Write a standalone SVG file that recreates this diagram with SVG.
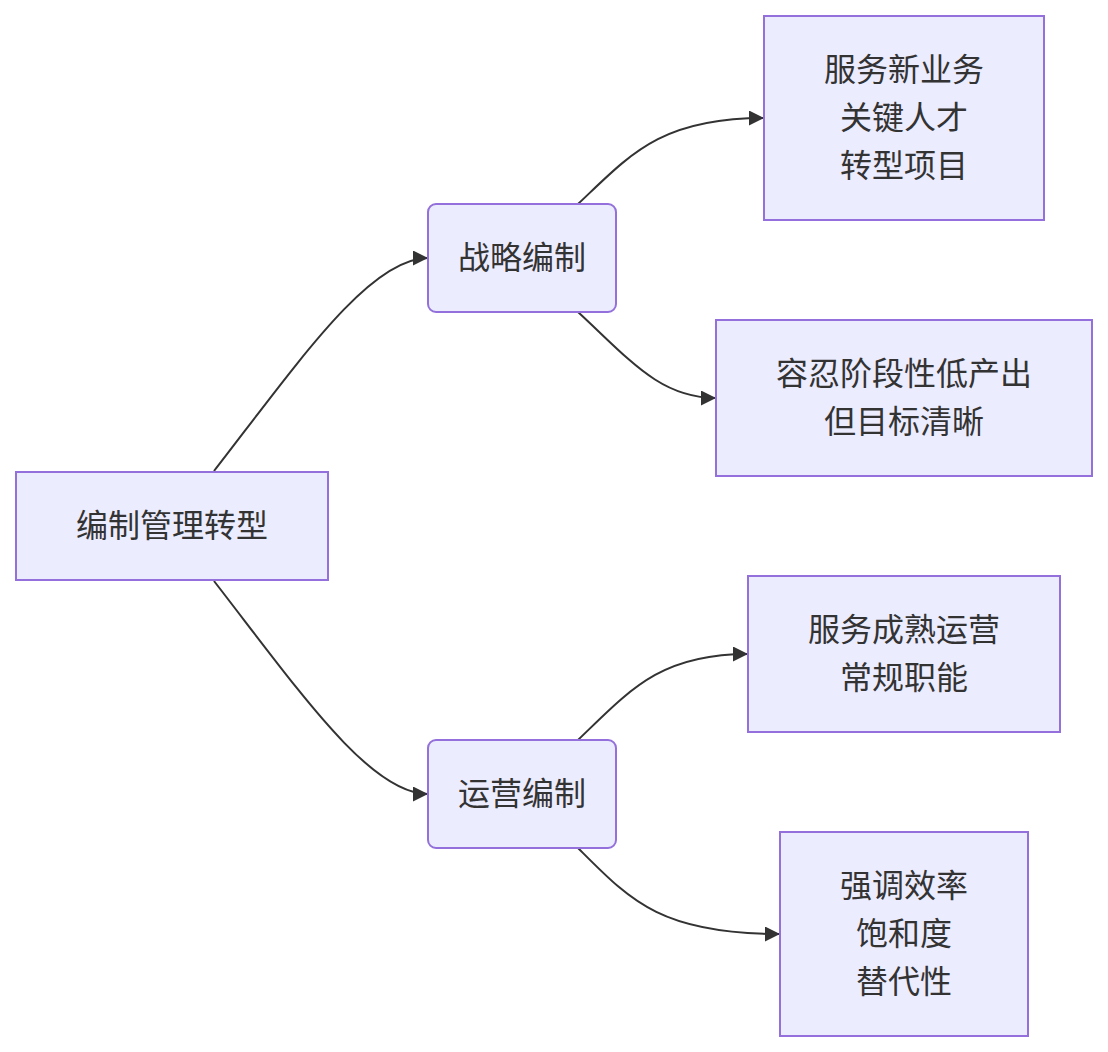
<svg xmlns="http://www.w3.org/2000/svg" width="1108" height="1052" viewBox="0 0 1108 1052">
<style>
.node rect{fill:#ECECFF;stroke:#9370DB;stroke-width:2}
.node text{font-family:"Noto Sans CJK SC","Noto Sans",sans-serif;font-size:32px;fill:#333;text-anchor:middle;dominant-baseline:central}
.edge{fill:none;stroke:#333;stroke-width:2}
</style>
<defs>
<marker id="arr" viewBox="0 0 10 10" refX="10" refY="5" markerWidth="15" markerHeight="15" markerUnits="userSpaceOnUse" orient="auto">
<path d="M0,0 L10,5 L0,10 z" fill="#333"/>
</marker>
</defs>
<rect width="1108" height="1052" fill="#fff"/>
<g id="edges">
<path class="edge" d="M214,471 C300,360 370,258 428,258" marker-end="url(#arr)"/>
<path class="edge" d="M214,581 C300,692 370,794 428,794" marker-end="url(#arr)"/>
<path class="edge" d="M578,204 C630,155 660,118 764,118" marker-end="url(#arr)"/>
<path class="edge" d="M578,312 C630,360 660,398 716,398" marker-end="url(#arr)"/>
<path class="edge" d="M578,740 C630,690 660,654 748,654" marker-end="url(#arr)"/>
<path class="edge" d="M578,848 C630,900 660,934 780,934" marker-end="url(#arr)"/>
</g>
<g id="root" class="node"><rect x="16" y="472" width="312" height="108"/><text x="172" y="523">编制管理转型</text></g>
<g id="strategic" class="node"><rect x="428" y="204" width="188" height="108" rx="8"/><text x="522" y="255">战略编制</text></g>
<g id="operational" class="node"><rect x="428" y="740" width="188" height="108" rx="8"/><text x="522" y="791">运营编制</text></g>
<g id="s1" class="node"><rect x="764" y="16" width="280" height="204"/><text x="904" y="67">服务新业务</text><text x="904" y="115">关键人才</text><text x="904" y="163">转型项目</text></g>
<g id="s2" class="node"><rect x="716" y="320" width="376" height="156"/><text x="904" y="371">容忍阶段性低产出</text><text x="904" y="419">但目标清晰</text></g>
<g id="o1" class="node"><rect x="748" y="576" width="312" height="156"/><text x="904" y="627">服务成熟运营</text><text x="904" y="675">常规职能</text></g>
<g id="o2" class="node"><rect x="780" y="832" width="248" height="204"/><text x="904" y="883">强调效率</text><text x="904" y="931">饱和度</text><text x="904" y="979">替代性</text></g>
</svg>
